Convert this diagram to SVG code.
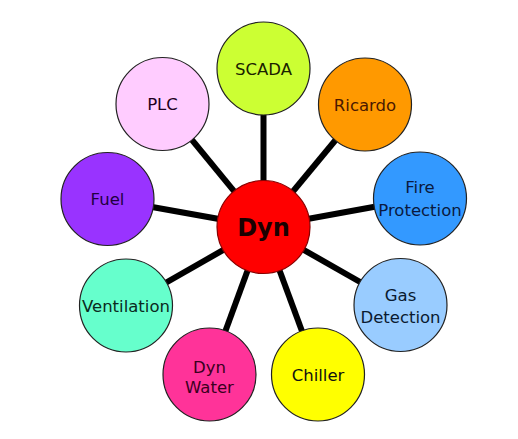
<svg xmlns="http://www.w3.org/2000/svg" width="518" height="439" viewBox="0 0 518 439">
<style>
.c{stroke:#222;stroke-width:1.2}
.t{font-family:"DejaVu Sans",Verdana,sans-serif;font-size:16.5px;text-anchor:middle;fill:#111}
.conn line{stroke:#000;stroke-width:6}
</style>
<rect width="518" height="439" fill="#fff"/>
<g id="connectors" class="conn">
<line x1="263.5" y1="227" x2="263.5" y2="68.5"/>
<line x1="263.5" y1="227" x2="365" y2="104.5"/>
<line x1="263.5" y1="227" x2="420" y2="198.5"/>
<line x1="263.5" y1="227" x2="400.5" y2="305"/>
<line x1="263.5" y1="227" x2="318" y2="374.5"/>
<line x1="263.5" y1="227" x2="209.5" y2="374.5"/>
<line x1="263.5" y1="227" x2="126" y2="305.5"/>
<line x1="263.5" y1="227" x2="107.5" y2="199"/>
<line x1="263.5" y1="227" x2="162.5" y2="104"/>
</g>
<g id="scada"><circle class="c" cx="263.5" cy="68.5" r="46.5" fill="#ccff33"/><text class="t" x="263.5" y="75" style="fill:#1a2200">SCADA</text></g>
<g id="ricardo"><circle class="c" cx="365" cy="104.5" r="46.5" fill="#ff9900"/><text class="t" x="365" y="111" style="fill:#4a1800">Ricardo</text></g>
<g id="fire"><circle class="c" cx="420" cy="198.5" r="46.5" fill="#3399ff"/><text class="t" x="420" y="193" style="fill:#0a1a40">Fire</text><text class="t" x="420" y="216" style="fill:#0a1a40">Protection</text></g>
<g id="gas"><circle class="c" cx="400.5" cy="305" r="46.5" fill="#99ccff"/><text class="t" x="400.5" y="301" style="fill:#0a1a30">Gas</text><text class="t" x="400.5" y="323" style="fill:#0a1a30">Detection</text></g>
<g id="chiller"><circle class="c" cx="318" cy="374.5" r="46.5" fill="#ffff00"/><text class="t" x="318" y="381">Chiller</text></g>
<g id="dynwater"><circle class="c" cx="209.5" cy="374.5" r="46.5" fill="#ff3399"/><text class="t" x="209.5" y="373" style="fill:#3a0020">Dyn</text><text class="t" x="209.5" y="393" style="fill:#3a0020">Water</text></g>
<g id="ventilation"><circle class="c" cx="126" cy="305.5" r="46.5" fill="#66ffcc"/><text class="t" x="126" y="312" style="fill:#0a2a20">Ventilation</text></g>
<g id="fuel"><circle class="c" cx="107.5" cy="199" r="46.5" fill="#9933ff"/><text class="t" x="107.5" y="205" style="fill:#200040">Fuel</text></g>
<g id="plc"><circle class="c" cx="162.5" cy="104" r="46.5" fill="#ffccff"/><text class="t" x="162.5" y="110" style="fill:#200020">PLC</text></g>
<g id="dyn"><circle cx="263.5" cy="227" r="46.5" fill="#ff0000" stroke="#800" stroke-width="1.2"/><text x="263.5" y="236" text-anchor="middle" font-family="DejaVu Sans,Verdana,sans-serif" font-size="24" font-weight="bold" fill="#1a0000">Dyn</text></g>
</svg>
